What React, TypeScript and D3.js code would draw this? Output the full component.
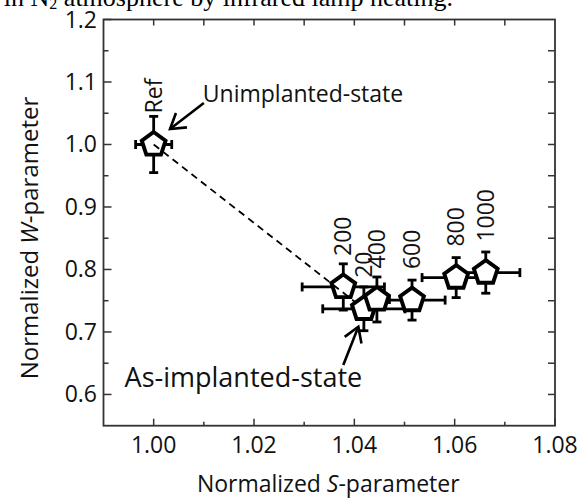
import React from "react";
import * as d3 from "d3";

const labels = ["Ref", "20", "200", "400", "600", "800", "1000"];
const sValues = [1.0, 1.0419, 1.0378, 1.0445, 1.0515, 1.0603, 1.0662];
const wValues = [1.0, 0.737, 0.772, 0.752, 0.751, 0.787, 0.795];
const sErr = [0.0036, 0.0082, 0.0082, 0.0025, 0.0066, 0.0068, 0.0068];
const wErr = [0.045, 0.035, 0.037, 0.036, 0.032, 0.032, 0.033];

const xMajorTicks = [1.0, 1.02, 1.04, 1.06, 1.08];
const xMinorTicks = [1.01, 1.03, 1.05, 1.07];
const xTopTicks = [1.0, 1.01, 1.02, 1.03, 1.04, 1.05, 1.06, 1.07];
const yMajorTicks = [0.6, 0.7, 0.8, 0.9, 1.0, 1.1, 1.2];
const yMinorTicks = [0.65, 0.75, 0.85, 0.95, 1.05, 1.15];
const yRightTicks = [0.6, 0.65, 0.7, 0.75, 0.8, 0.85, 0.9, 0.95, 1.0, 1.05, 1.1, 1.15];

// annotations in data coordinates
const annUnimplanted = { text: "Unimplanted-state", tx: 1.0098, ty: 1.0677, from: [1.0100, 1.0664], to: [1.00326, 1.0248] };
const annAsImplanted = { text: "As-implanted-state", tx: 0.9942, ty: 0.6115, from: [1.0378, 0.6471], to: [1.0408, 0.7084] };

const W = 584, H = 500;
const L = 103.5, R = 555, T = 19.5, B = 425.7;
const FONT = "'Open Sans', 'Noto Sans', sans-serif";

function pentagon(cx: number, cy: number, r: number) {
  const pts = d3.range(5).map((i) => {
    const a = -Math.PI / 2 + (i * 2 * Math.PI) / 5;
    return [cx + r * Math.cos(a), cy + r * Math.sin(a)] as [number, number];
  });
  return "M" + pts.map((p) => p.join(",")).join("L") + "Z";
}

function Arrow({ x1, y1, x2, y2 }: { x1: number; y1: number; x2: number; y2: number }) {
  const ang = Math.atan2(y1 - y2, x1 - x2);
  const len = 17, half = (32 * Math.PI) / 180;
  const a1 = [x2 + len * Math.cos(ang + half), y2 + len * Math.sin(ang + half)];
  const a2 = [x2 + len * Math.cos(ang - half), y2 + len * Math.sin(ang - half)];
  return (
    <g stroke="#000" strokeWidth={2.6} fill="none" strokeLinecap="butt">
      <line x1={x1} y1={y1} x2={x2} y2={y2} />
      <polyline points={`${a1[0]},${a1[1]} ${x2},${y2} ${a2[0]},${a2[1]}`} />
    </g>
  );
}

export default function App() {
  const x = d3.scaleLinear().domain([0.99, 1.08]).range([L, R]);
  const y = d3.scaleLinear().domain([0.55, 1.2]).range([B, T]);
  const pts = labels.map((l, i) => ({ l, s: sValues[i], w: wValues[i], se: sErr[i], we: wErr[i] }));
  const lineGen = d3.line<{ s: number; w: number }>().x((d) => x(d.s)).y((d) => y(d.w));
  const cap = 4.5;
  const axisColor = "#333";

  const front = pts.filter((p) => p.l === "Ref" || p.l === "200");
  const back = pts.filter((p) => !(p.l === "Ref" || p.l === "200"));

  const marker = (p: typeof pts[0]) => (
    <path key={"m" + p.l} d={pentagon(x(p.s), y(p.w), 12.5)} fill="#fff" stroke="#000" strokeWidth={3.9} strokeLinejoin="miter" />
  );

  return (
    <svg width={W} height={H} style={{ position: "absolute", left: 0, top: 0 }} fontFamily={FONT}>
      <rect width={W} height={H} fill="#fff" />
      {/* cropped caption */}
      <text x={453} y={6} textAnchor="end" fontFamily="'Liberation Serif', serif" fontSize={26} fill="#000">
        in N<tspan fontSize={16} dy={3}>2</tspan>
        <tspan dy={-3}> atmosphere by infrared lamp heating.</tspan>
      </text>

      {/* frame */}
      <rect x={L} y={T} width={R - L} height={B - T} fill="none" stroke={axisColor} strokeWidth={1.8} />
      {/* ticks */}
      <g stroke={axisColor} strokeWidth={1.5}>
        {xMajorTicks.map((t) => <line key={"xb" + t} x1={x(t)} x2={x(t)} y1={B} y2={B - 7} />)}
        {xMinorTicks.map((t) => <line key={"xbm" + t} x1={x(t)} x2={x(t)} y1={B} y2={B - 4} />)}
        {xTopTicks.map((t) => <line key={"xt" + t} x1={x(t)} x2={x(t)} y1={T} y2={T + 6} />)}
        {yMajorTicks.map((t) => <line key={"yl" + t} x1={L} x2={L + 8} y1={y(t)} y2={y(t)} />)}
        {yMinorTicks.map((t) => <line key={"ylm" + t} x1={L} x2={L + 5} y1={y(t)} y2={y(t)} />)}
        {yRightTicks.map((t) => <line key={"yr" + t} x1={R} x2={R - 7} y1={y(t)} y2={y(t)} />)}
      </g>
      {/* tick labels */}
      <g fontSize={23} fill="#111">
        {xMajorTicks.map((t) => (
          <text key={"xl" + t} x={x(t)} y={453.3} textAnchor="middle">{d3.format(".2f")(t)}</text>
        ))}
        {yMajorTicks.map((t) => (
          <text key={"yl" + t} x={97} y={y(t) + 8} textAnchor="end">{d3.format(".1f")(t)}</text>
        ))}
      </g>
      {/* axis titles */}
      <text x={(L + R) / 2 - 1} y={492} textAnchor="middle" fontSize={23} fill="#111">
        Normalized <tspan fontStyle="italic">S</tspan>-parameter
      </text>
      <text transform={`translate(38,238) rotate(-90)`} textAnchor="middle" fontSize={24} fill="#111">
        Normalized <tspan fontStyle="italic">W</tspan>-parameter
      </text>

      {/* error bars */}
      <g stroke="#000" strokeWidth={2.8}>
        {pts.map((p) => {
          const cx = x(p.s), cy = y(p.w);
          const x0 = x(p.s - p.se), x1 = x(p.s + p.se);
          const y0 = y(p.w - p.we), y1 = y(p.w + p.we);
          return (
            <g key={"e" + p.l}>
              <line x1={x0} x2={x1} y1={cy} y2={cy} />
              <line x1={x0} x2={x0} y1={cy - cap} y2={cy + cap} />
              <line x1={x1} x2={x1} y1={cy - cap} y2={cy + cap} />
              <line x1={cx} x2={cx} y1={y0} y2={y1} />
              <line x1={cx - cap} x2={cx + cap} y1={y0} y2={y0} />
              <line x1={cx - cap} x2={cx + cap} y1={y1} y2={y1} />
            </g>
          );
        })}
      </g>
      {front.map(marker)}
      <path
        d={lineGen([pts[0], pts[1]]) || ""}
        fill="none"
        stroke="#000"
        strokeWidth={1.8}
        strokeDasharray="7,5"
      />
      {back.map(marker)}

      {/* point labels */}
      <g fontSize={23} fill="#111">
        {pts.map((p) => (
          <text
            key={"l" + p.l}
            transform={`translate(${x(p.s) + 8},${y(p.w) - 31}) rotate(-90)`}
            textAnchor="start"
          >
            {p.l}
          </text>
        ))}
      </g>

      {/* annotations */}
      <text x={x(annUnimplanted.tx)} y={y(annUnimplanted.ty)} fontSize={23} fill="#111">{annUnimplanted.text}</text>
      <Arrow x1={x(annUnimplanted.from[0])} y1={y(annUnimplanted.from[1])} x2={x(annUnimplanted.to[0])} y2={y(annUnimplanted.to[1])} />
      <text x={x(annAsImplanted.tx)} y={y(annAsImplanted.ty)} fontSize={27} fill="#111">{annAsImplanted.text}</text>
      <Arrow x1={x(annAsImplanted.from[0])} y1={y(annAsImplanted.from[1])} x2={x(annAsImplanted.to[0])} y2={y(annAsImplanted.to[1])} />
    </svg>
  );
}
